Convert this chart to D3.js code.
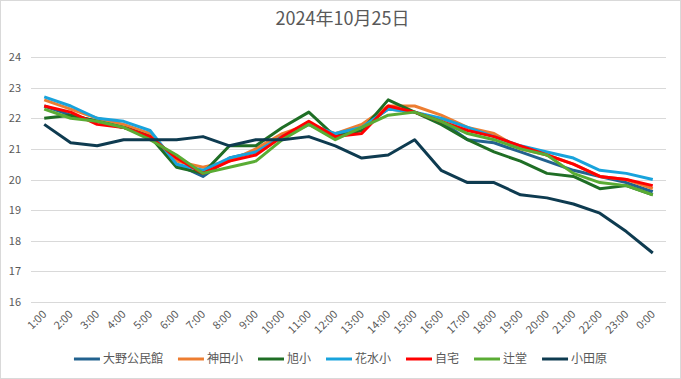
<!DOCTYPE html>
<html>
<head>
<meta charset="utf-8">
<script src="https://cdn.jsdelivr.net/npm/d3@7"></script>
<style>
  body { margin: 0; background: #fff; }
  text { font-family: "Noto Sans CJK JP", "Noto Sans", sans-serif; fill: #595959; }
</style>
</head>
<body>
<div id="chart"></div>
<script>
var hours = ["1:00","2:00","3:00","4:00","5:00","6:00","7:00","8:00","9:00","10:00","11:00","12:00",
  "13:00","14:00","15:00","16:00","17:00","18:00","19:00","20:00","21:00","22:00","23:00","0:00"];
var yTicks = [16, 17, 18, 19, 20, 21, 22, 23, 24];

var seriesNames = ["大野公民館", "神田小", "旭小", "花水小", "自宅", "辻堂", "小田原"];
var seriesColors = ["#22628f", "#ed7d31", "#1f6e25", "#18a3dc", "#ff0000", "#5aac34", "#0e3b50"];

var ono      = [22.4,22.1,21.9,21.7,21.5,20.5,20.1,20.7,20.9,21.4,21.8,21.4,21.7,22.3,22.2,21.9,21.3,21.2,20.9,20.6,20.3,20.1,19.9,19.6];
var kanda    = [22.6,22.3,22.0,21.8,21.5,20.6,20.4,20.6,21.0,21.5,21.8,21.5,21.8,22.4,22.4,22.1,21.7,21.5,21.0,20.8,20.5,20.1,20.0,19.7];
var asahi    = [22.0,22.1,21.9,21.7,21.4,20.4,20.2,21.1,21.1,21.7,22.2,21.4,21.6,22.6,22.2,21.8,21.3,20.9,20.6,20.2,20.1,19.7,19.8,19.5];
var hanamizu = [22.7,22.4,22.0,21.9,21.6,20.5,20.3,20.7,20.9,21.4,21.8,21.5,21.7,22.3,22.2,22.0,21.7,21.4,21.1,20.9,20.7,20.3,20.2,20.0];
var jitaku   = [22.4,22.2,21.8,21.7,21.4,20.7,20.2,20.6,20.8,21.4,21.9,21.4,21.5,22.4,22.2,21.9,21.6,21.4,21.1,20.8,20.5,20.1,20.0,19.8];
var tsujido  = [22.3,22.0,21.9,21.7,21.3,20.8,20.2,20.4,20.6,21.3,21.8,21.3,21.7,22.1,22.2,21.9,21.5,21.3,21.0,20.8,20.2,19.9,19.8,19.5];
var odawara  = [21.8,21.2,21.1,21.3,21.3,21.3,21.4,21.1,21.3,21.3,21.4,21.1,20.7,20.8,21.3,20.3,19.9,19.9,19.5,19.4,19.2,18.9,18.3,17.6];

var allSeries = [ono, kanda, asahi, hanamizu, jitaku, tsujido, odawara];

var W = 681, H = 379;
var plot = {left: 31, right: 666, top: 57, bottom: 302};

var svg = d3.select("#chart").append("svg")
  .attr("width", W).attr("height", H);

// outer frame
svg.append("rect")
  .attr("x", 0.5).attr("y", 0.5)
  .attr("width", W - 1).attr("height", H - 1)
  .attr("fill", "#fff").attr("stroke", "#d9d9d9");

// title
svg.append("text")
  .attr("x", W / 2 + 2).attr("y", 25)
  .attr("text-anchor", "middle")
  .style("font-size", "18px")
  .text("2024年10月25日");

var x = d3.scaleBand().domain(hours).range([plot.left, plot.right]);
var y = d3.scaleLinear().domain([16, 24]).range([plot.bottom, plot.top]);

// gridlines
svg.append("g").selectAll("line")
  .data(yTicks).enter().append("line")
  .attr("x1", plot.left).attr("x2", plot.right)
  .attr("y1", d => Math.round(y(d)) + 0.5).attr("y2", d => Math.round(y(d)) + 0.5)
  .attr("stroke", "#d9d9d9").attr("stroke-width", 1);

// y labels
svg.append("g").selectAll("text")
  .data(yTicks).enter().append("text")
  .attr("x", 21).attr("y", d => y(d) + 4)
  .attr("text-anchor", "end")
  .style("font-size", "11px")
  .text(d => d);

// x labels, rotated
svg.append("g").selectAll("text")
  .data(hours).enter().append("text")
  .attr("text-anchor", "end")
  .style("font-size", "11px")
  .attr("transform", d => `translate(${x(d) + x.bandwidth() / 2 + 3},${plot.bottom + 13}) rotate(-45)`)
  .text(d => d);

// lines
var line = d3.line()
  .x((d, i) => x(hours[i]) + x.bandwidth() / 2)
  .y(d => y(d));

svg.append("g").selectAll("path")
  .data(allSeries).enter().append("path")
  .attr("d", line)
  .attr("fill", "none")
  .attr("stroke", (d, i) => seriesColors[i])
  .attr("stroke-width", 3)
  .attr("stroke-linejoin", "round");

// legend, centered
var legend = svg.append("g");
var lineLen = 26, gapText = 3, gapItem = 15;
var items = legend.selectAll("g").data(seriesNames).enter().append("g");
items.append("line")
  .attr("x1", 0).attr("x2", lineLen)
  .attr("y1", 0).attr("y2", 0)
  .attr("stroke", (d, i) => seriesColors[i])
  .attr("stroke-width", 3);
items.append("text")
  .attr("x", lineLen + gapText).attr("y", 4)
  .style("font-size", "12px")
  .text(d => d);

var offs = 0;
items.each(function() {
  var w = lineLen + gapText + d3.select(this).select("text").node().getComputedTextLength();
  d3.select(this).attr("transform", `translate(${offs},0)`);
  offs += w + gapItem;
});
var totalW = offs - gapItem;
legend.attr("transform", `translate(${(W - totalW) / 2},359)`);
</script>
</body>
</html>
